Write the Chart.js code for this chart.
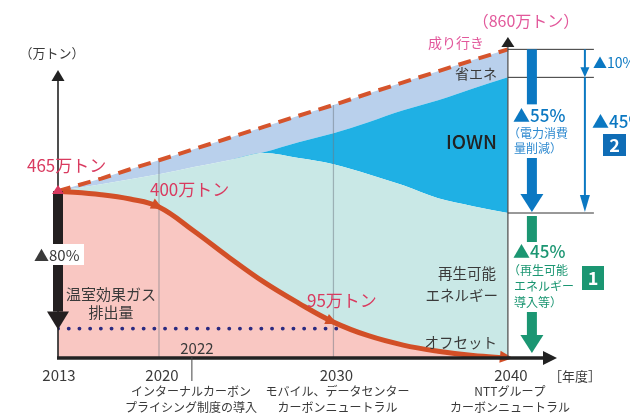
<!DOCTYPE html>
<html>
<head>
<meta charset="utf-8">
<script src="https://cdn.jsdelivr.net/npm/chart.js@4.4.1/dist/chart.umd.min.js"></script>
<style>
  html, body { margin:0; padding:0; background:#fff; overflow:hidden; }
  #wrap { width:630px; height:415px; position:relative; }
</style>
</head>
<body>
<div id="wrap"><canvas id="c"></canvas></div>
<script>
// values (万トン), years on the x axis
const YEARS         = [2013, 2016, 2018, 2020, 2022, 2024, 2026, 2028, 2030, 2032, 2034, 2036, 2038, 2040];
const EMISSIONS     = [465, 455, 443, 421, 354, 281, 212, 153, 100, 62, 36, 19, 7, 0];
const RENEWABLE_TOP = [465, 484, 498, 512, 532, 551, 571, 557, 540, 512, 481, 445, 423, 404];
const IOWN_TOP      = [465, 484, 498, 512, 532, 551, 573, 601, 626, 657, 690, 718, 751, 782];
const BAU           = [465, 500, 526, 551, 582, 613, 644, 675, 705, 737, 768, 799, 830, 860];
const OFFSET_YEARS  = [2013, 2030.4];
const OFFSET_VALUE  = 82;
const GRID_YEARS    = [2020, 2030];
const TICK_YEARS    = [2013, 2020, 2030, 2040];
const TICK_NOTES    = {
  2020: ['インターナルカーボン', 'プライシング制度の導入'],
  2030: ['モバイル、データセンター', 'カーボンニュートラル'],
  2040: ['NTTグループ', 'カーボンニュートラル']
};
const MARK_YEAR = 2022;

const FONT = '"Noto Sans CJK JP", "Noto Sans", sans-serif';
const C_CURVE = '#d24f27', C_PINK = '#f9c7c2', C_TEAL = '#c9e8e6', C_IOWN = '#1fb0e4', C_SAVE = '#b9d0ec';
const C_RED = '#d93a5f', C_MAG = '#e2589b', C_BLUE = '#0b78c2', C_BLUE_T = '#2f8ad0', C_GREEN = '#1b9672', C_TXT = '#3a3a3a';

// x axis: 2013-2020 squeezed, 2020 onward evenly spaced
const X_BREAK = 2020, X_BREAK_FRAC = 0.2032;
class PiecewiseScale extends Chart.LinearScale {
  toDecimal(v){
    if(v <= X_BREAK) return (v - this.min) / (X_BREAK - this.min) * X_BREAK_FRAC;
    return X_BREAK_FRAC + (v - X_BREAK) / (this.max - X_BREAK) * (1 - X_BREAK_FRAC);
  }
  getPixelForValue(v){
    if(v === null || v === undefined) return NaN;
    return this.getPixelForDecimal(this.toDecimal(v));
  }
  getValueForPixel(p){
    const d = this.getDecimalForPixel(p);
    if(d <= X_BREAK_FRAC) return this.min + d / X_BREAK_FRAC * (X_BREAK - this.min);
    return X_BREAK + (d - X_BREAK_FRAC) / (1 - X_BREAK_FRAC) * (this.max - X_BREAK);
  }
}
PiecewiseScale.id = 'piecewise';
PiecewiseScale.defaults = Chart.LinearScale.defaults;
Chart.register(PiecewiseScale);

const pts = (xs, ys) => xs.map((x,i)=>({x, y: ys[i]}));

function txt(ctx, s, x, y, size, color, align='left', weight='normal'){
  ctx.font = `${weight} ${size}px ${FONT}`;
  ctx.fillStyle = color;
  ctx.textAlign = align;
  ctx.textBaseline = 'middle';
  ctx.fillText(s, x, y);
}
function tri(ctx, pts, color){
  ctx.beginPath();
  ctx.moveTo(pts[0][0], pts[0][1]);
  for(const p of pts.slice(1)) ctx.lineTo(p[0], p[1]);
  ctx.closePath();
  ctx.fillStyle = color;
  ctx.fill();
}
function downArrow(ctx, x, y0, y1, w, headW, headH, color){
  ctx.fillStyle = color;
  ctx.fillRect(x - w/2, y0, w, y1 - headH - y0);
  tri(ctx, [[x - headW/2, y1 - headH], [x + headW/2, y1 - headH], [x, y1]], color);
}
function thinDownArrow(ctx, x, y0, y1, headW, headH, color){
  ctx.strokeStyle = color; ctx.lineWidth = 2;
  ctx.beginPath(); ctx.moveTo(x, y0); ctx.lineTo(x, y1 - headH + 1); ctx.stroke();
  tri(ctx, [[x - headW/2, y1 - headH], [x + headW/2, y1 - headH], [x, y1]], color);
}
function headAlong(ctx, x, y, dx, dy, len, wid, color){
  const L = Math.hypot(dx, dy), ux = dx/L, uy = dy/L;
  const bx = x - ux*len, by = y - uy*len;
  tri(ctx, [[x, y], [bx - uy*wid/2, by + ux*wid/2], [bx + uy*wid/2, by - ux*wid/2]], color);
}

const decor = {
  id: 'decor',
  afterDatasetsDraw(chart){
    const ctx = chart.ctx, xs = chart.scales.x, ys = chart.scales.y;
    const X = v => xs.getPixelForValue(v), Y = v => ys.getPixelForValue(v);
    const x0 = X(YEARS[0]), xE = X(YEARS[YEARS.length-1]), y0 = Y(0);
    ctx.save();

    // curve arrowheads at 2020, 2030, 2040
    const cp = YEARS.map((yr,i)=>[X(yr), Y(EMISSIONS[i])]);
    [3, 8].forEach(i=>{
      const a = cp[i-1], b = cp[i+1];
      headAlong(ctx, cp[i][0] + 4, cp[i][1] + (b[1]-a[1])/(b[0]-a[0])*4, b[0]-a[0], b[1]-a[1], 12, 11, C_CURVE);
    });
    const n = cp.length;
    headAlong(ctx, cp[n-1][0] + 5, cp[n-1][1], 10, 1, 13, 12, C_CURVE);

    // y axis with arrow
    ctx.strokeStyle = '#222'; ctx.lineWidth = 1.6;
    ctx.beginPath(); ctx.moveTo(x0, y0); ctx.lineTo(x0, 80); ctx.stroke();
    tri(ctx, [[x0-6.5, 81], [x0+6.5, 81], [x0, 70]], '#222');

    // 2040 vertical with arrow
    ctx.strokeStyle = '#555'; ctx.lineWidth = 1.3;
    ctx.beginPath(); ctx.moveTo(xE, y0); ctx.lineTo(xE, 46); ctx.stroke();
    tri(ctx, [[xE-6.5, 47], [xE+6.5, 47], [xE, 37]], '#222');

    // x axis with arrow
    ctx.strokeStyle = '#222'; ctx.lineWidth = 3.5;
    ctx.beginPath(); ctx.moveTo(x0 - 1, y0); ctx.lineTo(545, y0); ctx.stroke();
    tri(ctx, [[543, y0-7], [543, y0+7], [557, y0]], '#222');

    // left black reduction arrow, red marker on top
    const yS = Y(EMISSIONS[0]);
    downArrow(ctx, x0, yS, Y(OFFSET_VALUE) + 1, 10, 22, 18, '#231f20');
    tri(ctx, [[x0-6, yS+3], [x0+6, yS+3], [x0, yS-6]], C_RED);

    // ▲80% with white box
    ctx.fillStyle = '#fff'; ctx.fillRect(33, 244, 51, 21);
    txt(ctx, '▲80%', 34, 255, 15, C_TXT);

    // tick labels and notes
    TICK_YEARS.forEach(yr=>{
      txt(ctx, String(yr), X(yr) + (yr===2013 ? 1 : 3), 375, 15, C_TXT, 'center');
      const notes = TICK_NOTES[yr];
      if(notes){
        const cx = X(yr) + (yr===2020 ? 32 : yr===2030 ? 4 : 2);
        txt(ctx, notes[0], cx, 391, 12, C_TXT, 'center');
        txt(ctx, notes[1], cx, 407, 12, C_TXT, 'center');
      }
    });
    txt(ctx, '［年度］', 575, 376, 13, C_TXT, 'center');
    const xm = X(MARK_YEAR);
    txt(ctx, String(MARK_YEAR), xm + 3, 348, 15, C_TXT, 'center');
    ctx.strokeStyle = '#444'; ctx.lineWidth = 1;
    ctx.beginPath(); ctx.moveTo(xm - 2, 356); ctx.lineTo(xm - 2, 381); ctx.stroke();

    // value labels
    txt(ctx, '（万トン）', 52, 53, 13, C_TXT, 'center');
    txt(ctx, '465万トン', 27, 166, 17, C_RED);
    txt(ctx, '400万トン', 150, 190, 17, C_RED);
    txt(ctx, '95万トン', 307, 301, 17, C_RED);
    txt(ctx, '（860万トン）', 526, 21, 16, C_MAG, 'center');
    txt(ctx, '成り行き', 456, 43, 14, C_MAG, 'center');

    // area labels
    txt(ctx, '省エネ', 497, 74, 14, C_TXT, 'right');
    txt(ctx, 'IOWN', 497, 142, 19, '#222', 'right', '500');
    txt(ctx, '再生可能', 496, 273, 14.5, C_TXT, 'right');
    txt(ctx, 'エネルギー', 498, 295, 14.5, C_TXT, 'right');
    txt(ctx, 'オフセット', 497, 342, 14.5, C_TXT, 'right');
    txt(ctx, '温室効果ガス', 111, 294, 15, C_TXT, 'center');
    txt(ctx, '排出量', 111, 312, 15, C_TXT, 'center');

    // right side breakdown
    const yT = Y(BAU[n-1]), yM = Y(IOWN_TOP[n-1]), yL = Y(RENEWABLE_TOP[n-1]);
    ctx.strokeStyle = '#333'; ctx.lineWidth = 1;
    [yT, yM, yL].forEach(yy=>{ ctx.beginPath(); ctx.moveTo(xE, yy); ctx.lineTo(xE + 86, yy); ctx.stroke(); });
    const xa = xE + 24, xt = xE + 77;
    ctx.fillStyle = C_BLUE; ctx.fillRect(xa - 5, yT, 10, 55);
    downArrow(ctx, xa, 158, yL - 1, 10, 23, 18, C_BLUE);
    thinDownArrow(ctx, xt, yT, yM, 9, 10, C_BLUE);
    thinDownArrow(ctx, xt, yM, yL - 1, 10, 17, C_BLUE);
    ctx.fillStyle = C_GREEN; ctx.fillRect(xa - 5, yL + 3, 10, 26);
    downArrow(ctx, xa, 312, 353, 10, 23, 18, C_GREEN);

    txt(ctx, '▲55%', 513, 116, 17, C_BLUE, 'left', '500');
    txt(ctx, '（電力消費', 508, 133, 12, C_BLUE_T);
    txt(ctx, '量削減）', 514, 148, 12, C_BLUE_T);
    txt(ctx, '▲10%', 593, 63, 14, C_BLUE);
    txt(ctx, '▲45%', 592, 122, 17, C_BLUE, 'left', '500');
    ctx.fillStyle = '#0f6db6'; ctx.fillRect(603, 134, 23, 22);
    txt(ctx, '2', 614.5, 145.5, 18, '#fff', 'center', 'bold');

    txt(ctx, '▲45%', 513, 252, 17, C_GREEN, 'left', '500');
    txt(ctx, '（再生可能', 508, 270, 12, C_GREEN);
    txt(ctx, 'エネルギー', 514, 286, 12, C_GREEN);
    txt(ctx, '導入等）', 514, 302, 12, C_GREEN);
    ctx.fillStyle = C_GREEN; ctx.fillRect(582, 266, 22, 24);
    txt(ctx, '1', 593, 278, 18, '#fff', 'center', 'bold');

    ctx.restore();
  }
};

const datasets = [
  { data: pts(YEARS, EMISSIONS), borderColor: C_CURVE, borderWidth: 5, backgroundColor: C_PINK,
    fill: 'origin', tension: 0.4 },
  { data: pts(YEARS, RENEWABLE_TOP), borderWidth: 0, borderColor: 'rgba(0,0,0,0)', backgroundColor: C_TEAL,
    fill: '-1', cubicInterpolationMode: 'monotone' },
  { data: pts(YEARS, IOWN_TOP), borderWidth: 0, borderColor: 'rgba(0,0,0,0)', backgroundColor: C_IOWN,
    fill: '-1', cubicInterpolationMode: 'monotone' },
  { data: pts(YEARS, BAU), borderColor: '#d5542c', borderWidth: 4, borderDash: [13, 8], backgroundColor: C_SAVE,
    fill: '-1', tension: 0 },
  { data: OFFSET_YEARS.map(x=>({x, y: OFFSET_VALUE})), borderColor: '#2b2a80', borderWidth: 3.8,
    borderDash: [0.1, 10.6], borderCapStyle: 'round', fill: false, tension: 0 },
  ...GRID_YEARS.map(yr=>({
    data: [{x: yr, y: 0}, {x: yr, y: BAU[YEARS.indexOf(yr)]}],
    borderColor: 'rgba(110,120,130,0.5)', borderWidth: 1.2, fill: false, tension: 0
  }))
];

new Chart(document.getElementById('c'), {
  type: 'line',
  data: { datasets },
  options: {
    responsive: true,
    maintainAspectRatio: false,
    animation: false,
    layout: { padding: { left: 58, right: 75, top: 35, bottom: 57 } },
    elements: { point: { radius: 0, hoverRadius: 0 } },
    plugins: { legend: { display: false }, tooltip: { enabled: false }, filler: { drawTime: 'beforeDatasetsDraw' } },
    scales: {
      x: { type: 'piecewise', min: 2013, max: 2042.7, display: false },
      y: { type: 'linear', min: 0, max: 900, display: false }
    }
  },
  plugins: [decor]
});
</script>
</body>
</html>
